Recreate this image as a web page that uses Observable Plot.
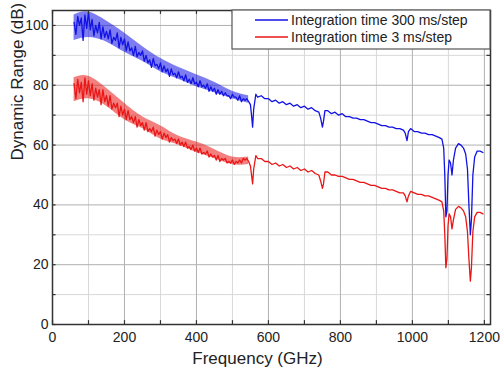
<!DOCTYPE html>
<html><head><meta charset="utf-8">
<script src="https://cdn.jsdelivr.net/npm/d3@7"></script>
<script src="https://cdn.jsdelivr.net/npm/@observablehq/plot@0.6"></script>
<style>body{margin:0;background:#fff} svg{display:block}</style>
</head><body><div id="chart"></div>
<script>
// Frequency samples (GHz)
const freq = [60,65,70,75,80,85,90,95,100,105,110,115,120,125,130,135,140,145,150,155,160,165,170,175,180,185,190,195,200,205,210,215,220,225,230,235,240,245,250,255,260,265,270,275,280,285,290,295,300,305,310,315,320,325,330,335,340,345,350,355,360,365,370,375,380,385,390,395,400,405,410,415,420,425,430,435,440,445,450,455,460,465,470,475,480,485,490,495,500,505,510,515,520,525,530,535,540,545,
550,553,556,559,565,570,
580,590,600,610,620,630,640,650,660,670,680,690,700,710,720,730,740,
745,750,753,757,
765,775,785,795,805,815,825,835,845,855,865,875,885,895,905,915,925,935,945,955,965,975,
980,985,989,
995,1005,1015,1025,1035,1045,1055,1065,1075,
1082,1087,1090,1093,1096,1099,1102,1106,1110,1114,1120,1128,1135,1142,1148,1153,1157,1161,1164,1168,1173,1180,1188,1196];

// Integration time 300 ms/step (dB)
const dbSlow = [101,97,103,100,102.5,95,103.5,99,104.5,98.5,
102,96.5,100,97.5,101,95.5,99.5,96,98,95.5,
98.5,94,96,95,97.5,92.5,96,93.5,95.5,91.5,
94.5,91.5,92.5,90,93,89.5,91,90,91.5,88,
90,87.5,88.5,86,89,86.5,87,85.5,87.5,84.5,
86.5,84.5,85.5,83,85.5,83.5,84,82.5,84.5,82.5,
83,81.5,83.5,81,82,80.5,82.5,80.5,81,79.5,
81.5,79.5,80,79,80.5,78,79.5,78,79,77,
78.5,77,78,76.5,77.5,76.5,76.5,75.5,77,76,
76,75,76.5,74.5,75.5,75,75.5,74.5,
73.5,70,66,72,77,76,
76.5,75.5,75.5,74.5,75,74,74.5,73.5,74,73,73.5,72.5,73,72,72.5,71.5,71,
69,66,68,71.5,
71.5,70.5,71,70,70.5,69.5,69.5,69,69,68.5,68.5,68,67.5,67.5,67,66.5,66.5,66,66,65.5,65.5,65,
64,61.5,64.5,
65.5,64.5,64.5,64,64,63.5,63.5,63,62.5,
62,59,50,36,38,50,55,54,50,55,59,60.5,60,59,57,52,40,30,35,50,56,58,58,57.5];

// Integration time 3 ms/step (dB)
const dbFast = [80.5,75.5,82,77.5,81,74.5,82.5,77,81.5,76.5,
80.5,75,79,76,78.5,73.5,78.5,74.5,76.5,73,
76.5,72,74,72.5,74,69.5,73,70,72,68.5,
71.5,68.5,69.5,67.5,69.5,66,68.5,66.5,67.5,65,
67.5,64.5,65.5,64.5,66,63,65,63.5,64.5,62,
64,62.5,63.5,61,62.5,61.5,62,60.5,62,60,
61,59.5,61,59,59.5,58.5,60,58,59,57.5,
59,57,57.5,57,58,56,57,56,56.5,55,
56.5,54.5,55.5,55,55.5,54,54.5,54,55,53.5,
54.5,54,55,54,55.5,55,55.5,54.5,
53,50,47,52,56.5,55.5,
55.5,54.5,54.5,53.5,54,53,53.5,52.5,53,52,52.5,51.5,52,51,51.5,50.5,50,
48,45.5,47,51,
51,50,50,49.5,49.5,49,48.5,48.5,48,47.5,47.5,47,46.5,46.5,46,45.5,45.5,45,45,44.5,44,44,
43,41,43,
44.5,44,43.5,43.5,43,43,42.5,42,41.5,
41,38,30,19,22,33,37,36,32,35,38.5,39.5,39,38,36,31,22,14.5,19,31,36,37.5,37.5,37];

// Noise envelope of the low-frequency part
const bandFreq = [60,100,150,200,250,300,350,400,450,500,545];
const slowLo = [95,96,94.5,91,88,84.5,82,79.5,77.5,75.5,74];
const slowHi = [103.5,104.5,101.5,97.5,93,89,86,83.5,81,78,76.5];
const fastLo = [74.5,75.5,73,68.5,65.5,62,60,57.5,55.5,53.5,53.5];
const fastHi = [82.5,83,79,74,69.5,66.5,63,61,58.5,56,56];

const seriesNames = ["Integration time 300 ms/step", "Integration time 3 ms/step"];
const seriesColors = ["#1212e6", "#ea1616"];
const xMajor = [0,200,400,600,800,1000,1200];
const xMinor = [100,300,500,700,900,1100];
const yMajor = [0,20,40,60,80,100];
const yMinor = [10,30,50,70,90];
const xTitle = "Frequency (GHz)";
const yTitle = "Dynamic Range (dB)";
const xDomain = [0, 1217];
const yDomain = [0, 105];

const slow = freq.map((f, i) => ({f, db: dbSlow[i]}));
const fast = freq.map((f, i) => ({f, db: dbFast[i]}));
const band = bandFreq.map((f, i) => ({f, sLo: slowLo[i], sHi: slowHi[i], fLo: fastLo[i], fHi: fastHi[i]}));
const xAll = [...xMajor, ...xMinor];
const yAll = [...yMajor, ...yMinor];

const plot = Plot.plot({
  width: 502, height: 370,
  marginLeft: 52, marginRight: 12, marginTop: 10, marginBottom: 46,
  style: {fontFamily: "'Liberation Sans', Arial, sans-serif", color: "#222", background: "#fff"},
  x: {domain: xDomain},
  y: {domain: yDomain},
  marks: [
    Plot.gridX(xMinor, {stroke: "#d8d8d8", strokeOpacity: 1}),
    Plot.gridY(yMinor, {stroke: "#d8d8d8", strokeOpacity: 1}),
    Plot.gridX(xMajor, {stroke: "#b0b0b0", strokeOpacity: 1}),
    Plot.gridY(yMajor, {stroke: "#b0b0b0", strokeOpacity: 1}),
    Plot.areaY(band, {x: "f", y1: "sLo", y2: "sHi", fill: seriesColors[0], fillOpacity: 0.55, curve: "natural"}),
    Plot.line(slow, {x: "f", y: "db", stroke: seriesColors[0], strokeWidth: 1.3}),
    Plot.areaY(band, {x: "f", y1: "fLo", y2: "fHi", fill: seriesColors[1], fillOpacity: 0.55, curve: "natural"}),
    Plot.line(fast, {x: "f", y: "db", stroke: seriesColors[1], strokeWidth: 1.3}),
    Plot.ruleX(xAll, {x: d => d, y1: 0, y2: 1.3, stroke: "#333", strokeWidth: 1.2}),
    Plot.ruleX(xAll, {x: d => d, y1: 105, y2: 103.7, stroke: "#333", strokeWidth: 1.2}),
    Plot.ruleY(yAll, {y: d => d, x1: 0, x2: 10, stroke: "#333", strokeWidth: 1.2}),
    Plot.ruleY(yAll, {y: d => d, x1: 1217, x2: 1207, stroke: "#333", strokeWidth: 1.2}),
    Plot.frame({stroke: "#333", strokeWidth: 1.5}),
    Plot.axisX({ticks: xMajor, tickSize: 0, tickPadding: 8, label: null, fontSize: 14, tickFormat: d => String(d)}),
    Plot.axisY({ticks: yMajor, tickSize: 0, tickPadding: 4, label: null, fontSize: 14, tickFormat: d => String(d)}),
    Plot.text([xTitle], {frameAnchor: "bottom", lineAnchor: "middle", dy: 34, dx: -14, fontSize: 17, fill: "#222"}),
    Plot.text([yTitle], {frameAnchor: "left", rotate: -90, dx: -35, dy: -7, fontSize: 17, fill: "#222"})
  ]
});

// Legend box in the top-right corner of the frame
const svg = d3.select(plot);
const lg = svg.append("g").attr("font-family", "'Liberation Sans', Arial, sans-serif")
  .attr("font-size", 14).attr("text-anchor", "start");
lg.append("rect").attr("x", 232).attr("y", 10).attr("width", 258).attr("height", 39)
  .attr("fill", "#fff").attr("stroke", "#555").attr("stroke-width", 1.2);
seriesNames.forEach((name, i) => {
  const cy = 20 + i * 17;
  lg.append("line").attr("x1", 255).attr("x2", 288).attr("y1", cy).attr("y2", cy)
    .attr("stroke", seriesColors[i]).attr("stroke-width", 1.5);
  lg.append("text").attr("x", 291).attr("y", cy).attr("dy", "0.35em")
    .attr("text-anchor", "start").attr("fill", "#222").text(name);
});

document.getElementById("chart").appendChild(plot);
</script>
</body></html>
